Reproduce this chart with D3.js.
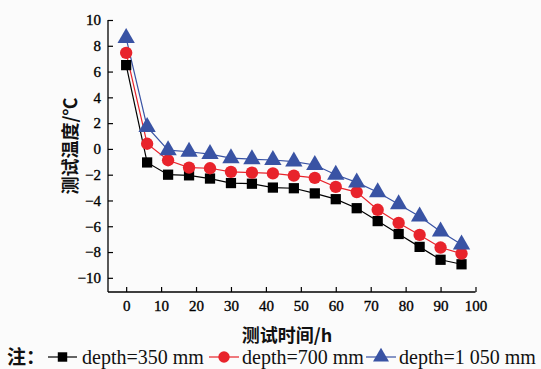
<!DOCTYPE html>
<html><head><meta charset="utf-8">
<script src="https://cdn.jsdelivr.net/npm/d3@7"></script>
<style>
html,body{margin:0;padding:0;background:#fbfbfb;}
svg{display:block;}
</style></head>
<body>
<svg id="c" width="541" height="369"></svg>
<script>
const hours = [0,6,12,18,24,30,36,42,48,54,60,66,72,78,84,90,96];
const depth350 = [6.5,-1.05,-2.0,-2.05,-2.3,-2.65,-2.7,-3.0,-3.05,-3.45,-3.9,-4.6,-5.6,-6.6,-7.6,-8.6,-8.95];
const depth700 = [7.45,0.4,-0.88,-1.45,-1.5,-1.78,-1.84,-1.9,-2.07,-2.25,-2.95,-3.35,-4.72,-5.74,-6.67,-7.65,-8.12];
const depth1050 = [8.6,1.7,-0.1,-0.22,-0.4,-0.72,-0.8,-0.86,-0.98,-1.25,-2.0,-2.6,-3.36,-4.3,-5.25,-6.4,-7.42];
const xTicks = [0,10,20,30,40,50,60,70,80,90,100];
const yTicks = [-10,-8,-6,-4,-2,0,2,4,6,8,10];
const seriesNames = ["depth=350 mm","depth=700 mm","depth=1 050 mm"];
const seriesColors = ["#000000","#e8232b","#3953a4"];
const seriesShapes = [d3.symbolSquare, d3.symbolCircle, d3.symbolTriangle];
const xTitle = "测试时间/h";
const yTitle = "测试温度/℃";
const notePrefix = "注：";

const svg = d3.select("#c");
const x = d3.scaleLinear().domain([-5.2,100]).range([108,475.5]);
const y = d3.scaleLinear().domain([-11.1,10]).range([292,20]);
const latin = "'Liberation Serif','Times New Roman',serif";
const cjk = "'Noto Sans CJK SC',sans-serif";

const fmt = d => (d<0 ? "\u2212"+Math.abs(d) : String(d));

const gx = svg.append("g").attr("transform","translate(0,292)")
  .call(d3.axisBottom(x).tickValues(xTicks).tickSizeInner(-5).tickSizeOuter(0).tickPadding(8).tickFormat(fmt));
const gy = svg.append("g").attr("transform","translate(108,0)")
  .call(d3.axisLeft(y).tickValues(yTicks).tickSizeInner(-5).tickSizeOuter(0).tickPadding(7).tickFormat(fmt));
[gx,gy].forEach(g=>{
  g.attr("font-family",latin).attr("font-size",15);
  g.select(".domain").attr("stroke","#000").attr("stroke-width",1.3);
  g.selectAll(".tick line").attr("stroke","#000").attr("stroke-width",1.2);
  g.selectAll(".tick text").attr("fill","#000").attr("stroke","#000").attr("stroke-width",0.35)
    .attr("font-family",latin).attr("font-size",15);
});
gx.select(".domain").attr("d", `M${x(-5.2)},0H${x(100)}`);
gy.select(".domain").attr("d", `M0,${y(10)}V${y(-11.1)}`);

const all = [depth350, depth700, depth1050];
const line = d3.line().x((d,i)=>x(hours[i])).y(d=>y(d));
const sizes = [105, 120, 130];
all.forEach((vals,k)=>{
  svg.append("path").datum(vals).attr("d",line).attr("fill","none")
    .attr("stroke",seriesColors[k]).attr("stroke-width",1.2);
});
all.forEach((vals,k)=>{
  svg.append("g").selectAll("path").data(vals).join("path")
    .attr("transform",(d,i)=>`translate(${x(hours[i])},${y(d)})`)
    .attr("d", d3.symbol().type(seriesShapes[k]).size(sizes[k]))
    .attr("fill",seriesColors[k]);
});

// axis titles
svg.append("text").attr("x",287).attr("y",342).attr("text-anchor","middle")
  .style("font-family",cjk).style("font-size","18px").style("font-weight","bold").attr("fill","#111")
  .text(xTitle);
svg.append("text").attr("transform","translate(77,146) rotate(-90)").attr("text-anchor","middle")
  .style("font-family",cjk).style("font-size","18px").style("font-weight","bold").attr("fill","#111")
  .text(yTitle);

// legend
const ly = 357;
const lg = svg.append("g");
lg.append("text").attr("x",7).attr("y",ly+7).style("font-family",cjk).style("font-size","19px").style("font-weight","bold").attr("fill","#111").text(notePrefix);
const lineX = [[48,77],[209,239],[366,396]];
const textX = [82,242,399];
seriesNames.forEach((n,k)=>{
  lg.append("line").attr("x1",lineX[k][0]).attr("x2",lineX[k][1]).attr("y1",ly).attr("y2",ly)
    .attr("stroke",seriesColors[k]).attr("stroke-width",1.2);
  lg.append("path").attr("transform",`translate(${(lineX[k][0]+lineX[k][1])/2},${ly})`)
    .attr("d", d3.symbol().type(seriesShapes[k]).size(sizes[k]*0.85)).attr("fill",seriesColors[k]);
  lg.append("text").attr("x",textX[k]).attr("y",ly+7).style("font-family",latin).style("font-size","20px").attr("fill","#111").text(n);
});
</script>
</body></html>
